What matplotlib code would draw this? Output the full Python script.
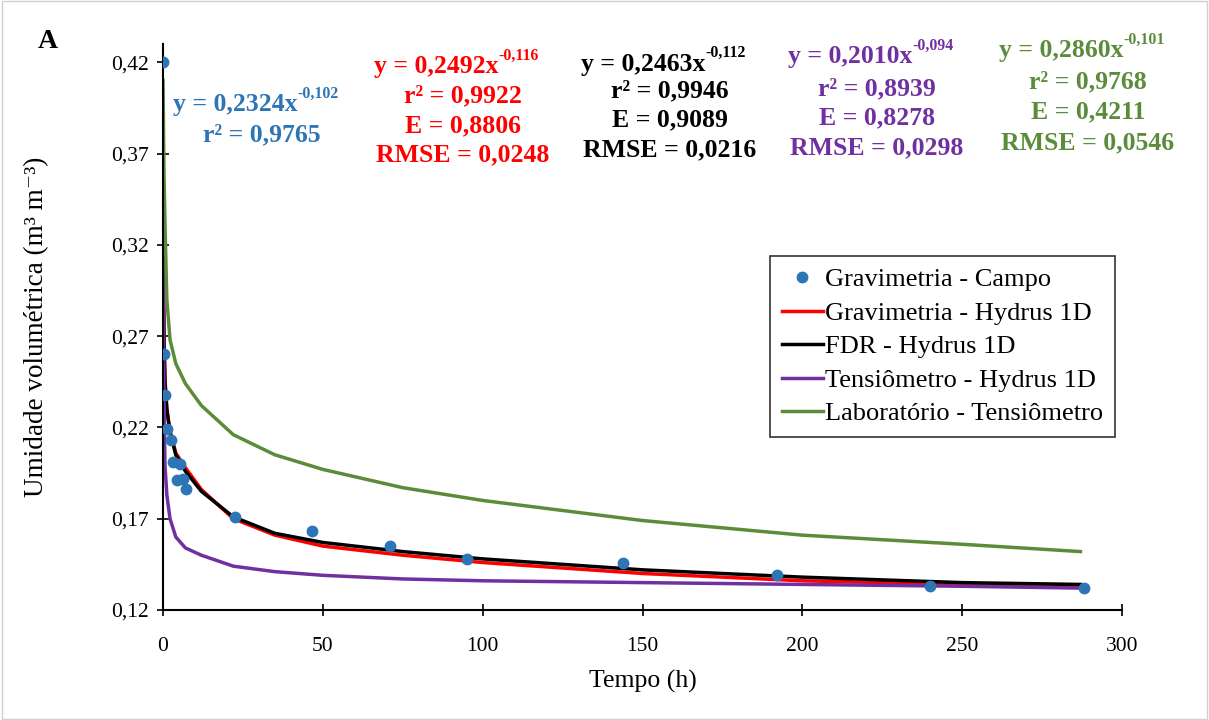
import matplotlib.pyplot as plt
from matplotlib.ticker import FuncFormatter

plt.rcParams['font.family'] = ['Liberation Serif', 'DejaVu Serif']

# field gravimetry points
campo_t = [0, 0.3, 0.6, 1.2, 2.5, 3.2, 5.3, 4.3, 6.3, 7.2, 22.6, 46.5, 71, 95, 144, 192, 240, 288]
campo_u = [0.420, 0.260, 0.238, 0.219, 0.213, 0.201, 0.200, 0.191, 0.192, 0.186,
           0.171, 0.163, 0.155, 0.148, 0.146, 0.139, 0.133, 0.132]

# simulated / lab curves
curve_t = [0, 0.3, 0.6, 1.2, 2.2, 4, 7, 12, 22, 35, 50, 75, 100, 150, 200, 250, 287]
grav_hydrus = [0.320, 0.272, 0.247, 0.230, 0.218, 0.206, 0.198, 0.186, 0.170, 0.161,
               0.155, 0.150, 0.146, 0.140, 0.136, 0.134, 0.133]
fdr_hydrus = [0.320, 0.270, 0.245, 0.230, 0.217, 0.205, 0.196, 0.185, 0.171, 0.162,
              0.157, 0.152, 0.148, 0.142, 0.138, 0.135, 0.134]
tens_hydrus = [0.310, 0.240, 0.200, 0.183, 0.170, 0.160, 0.154, 0.150, 0.144, 0.141,
               0.139, 0.137, 0.136, 0.135, 0.134, 0.133, 0.132]
lab_tens = [0.410, 0.360, 0.333, 0.290, 0.268, 0.255, 0.244, 0.232, 0.216, 0.205,
            0.197, 0.187, 0.180, 0.169, 0.161, 0.156, 0.152]

y_ticks = [0.12, 0.17, 0.22, 0.27, 0.32, 0.37, 0.42]
x_ticks = [0, 50, 100, 150, 200, 250, 300]

BLUE = '#2E75B6'
RED = '#FF0000'
PURPLE = '#7030A0'
GREEN = '#5B8C3A'

W, H = 1209, 720
fig = plt.figure(figsize=(W / 100, H / 100), dpi=100)
ax = fig.add_axes([163 / W, 1 - 610 / H, (1122 - 163) / W, (610 - 44) / H])

ax.plot(campo_t, campo_u, 'o', color=BLUE, ms=7.5, label='Gravimetria - Campo', zorder=5)
ax.plot(curve_t, grav_hydrus, color=RED, lw=2.5, label='Gravimetria - Hydrus 1D')
ax.plot(curve_t, fdr_hydrus, color='black', lw=2.5, label='FDR - Hydrus 1D')
ax.plot(curve_t, tens_hydrus, color=PURPLE, lw=2.5, label='Tensiômetro - Hydrus 1D')
ax.plot(curve_t, lab_tens, color=GREEN, lw=2.5, label='Laboratório - Tensiômetro')

ax.set_xlim(0, 300)
ax.set_ylim(0.12, 0.43)
ax.set_xticks(x_ticks)
ax.set_yticks(y_ticks)
ax.yaxis.set_major_formatter(FuncFormatter(lambda v, p: f'{v:.2f}'.replace('.', ',')))
ax.tick_params(direction='inout', length=9, width=1.2, labelsize=15.5, pad=6)
ax.tick_params(axis='x', pad=15)
for s in ['top', 'right']:
    ax.spines[s].set_visible(False)
for s in ['left', 'bottom']:
    ax.spines[s].set_linewidth(1.5)

ax.set_xlabel('Tempo (h)', fontsize=18.5, labelpad=10)
ax.set_ylabel('Umidade volumétrica (m³ m⁻³)', fontsize=19.5, labelpad=44)

leg = ax.legend(loc='upper left', bbox_to_anchor=((770 - 163) / (1122 - 163), 1 - (256 - 44) / (610 - 44)),
                fontsize=19, frameon=True, fancybox=False, edgecolor='black',
                handlelength=1.55, handletextpad=0.1, borderpad=0.45, labelspacing=0.38,
                borderaxespad=0)
leg.get_frame().set_linewidth(1.2)

fig.text(48 / W, 1 - 42 / H, 'A', fontsize=20, fontweight='bold', ha='center', va='center')

FS = 18.5


def put(xp, yp, txt, col):
    fig.text(xp / W, 1 - yp / H, txt, color=col, fontsize=FS, fontweight='bold',
             ha='center', va='center')


def put_eq(xp, yp, base, expo, col):
    t = fig.text(xp / W - 0.022, 1 - yp / H, base, color=col, fontsize=FS,
                 fontweight='bold', ha='center', va='center')
    ax.annotate(expo, xy=(1.0, 1.0), xycoords=t, color=col, fontsize=FS * 0.62,
                fontweight='bold', ha='left', va='center')


put_eq(262, 105, 'y = 0,2324x', '-0,102', BLUE)
put(262, 135, 'r² = 0,9765', BLUE)

put_eq(463, 67, 'y = 0,2492x', '-0,116', RED)
put(463, 96, 'r² = 0,9922', RED)
put(463, 126, 'E = 0,8806', RED)
put(463, 155, 'RMSE = 0,0248', RED)

put_eq(670, 64, 'y = 0,2463x', '-0,112', 'black')
put(670, 91, 'r² = 0,9946', 'black')
put(670, 120, 'E = 0,9089', 'black')
put(670, 150, 'RMSE = 0,0216', 'black')

put_eq(877, 57, 'y = 0,2010x', '-0,094', PURPLE)
put(877, 89, 'r² = 0,8939', PURPLE)
put(877, 118, 'E = 0,8278', PURPLE)
put(877, 148, 'RMSE = 0,0298', PURPLE)

put_eq(1088, 51, 'y = 0,2860x', '-0,101', GREEN)
put(1088, 82, 'r² = 0,9768', GREEN)
put(1088, 112, 'E = 0,4211', GREEN)
put(1088, 143, 'RMSE = 0,0546', GREEN)

fig.patches.append(plt.Rectangle((0.002, 0.002), 0.996, 0.996, transform=fig.transFigure,
                                 fill=False, edgecolor='#d0d0d0', lw=1))

fig.savefig('out.png', dpi=100)
